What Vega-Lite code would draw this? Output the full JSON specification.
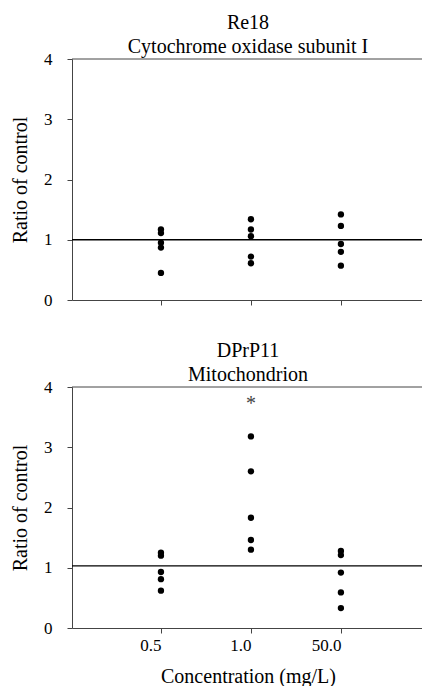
{
  "$schema": "https://vega.github.io/schema/vega-lite/v6.json",
  "background": "white",
  "padding": {"left": 10, "top": 13, "right": 0, "bottom": 0},
  "spacing": 33,
  "config": {
    "font": "Liberation Serif",
    "view": {"stroke": null},
    "axis": {
      "grid": false,
      "domainColor": "#444",
      "tickColor": "#444",
      "labelColor": "black",
      "titleColor": "black",
      "labelFont": "Liberation Serif",
      "titleFont": "Liberation Serif",
      "labelFontSize": 17,
      "titleFontSize": 20,
      "titleFontWeight": "normal",
      "tickSize": 5
    },
    "title": {"font": "Liberation Serif", "fontSize": 20, "fontWeight": "normal", "color": "black", "anchor": "middle", "lineHeight": 24, "offset": -7}
  },
  "datasets": {
    "points": [
      {"panel": "Re18", "conc": "0.5", "ratio": 1.17},
      {"panel": "Re18", "conc": "0.5", "ratio": 1.11},
      {"panel": "Re18", "conc": "0.5", "ratio": 0.95},
      {"panel": "Re18", "conc": "0.5", "ratio": 0.87},
      {"panel": "Re18", "conc": "0.5", "ratio": 0.45},
      {"panel": "Re18", "conc": "1.0", "ratio": 1.34},
      {"panel": "Re18", "conc": "1.0", "ratio": 1.17},
      {"panel": "Re18", "conc": "1.0", "ratio": 1.06},
      {"panel": "Re18", "conc": "1.0", "ratio": 0.72},
      {"panel": "Re18", "conc": "1.0", "ratio": 0.61},
      {"panel": "Re18", "conc": "50.0", "ratio": 1.42},
      {"panel": "Re18", "conc": "50.0", "ratio": 1.23},
      {"panel": "Re18", "conc": "50.0", "ratio": 0.93},
      {"panel": "Re18", "conc": "50.0", "ratio": 0.80},
      {"panel": "Re18", "conc": "50.0", "ratio": 0.57},
      {"panel": "DPrP11", "conc": "0.5", "ratio": 1.25},
      {"panel": "DPrP11", "conc": "0.5", "ratio": 1.20},
      {"panel": "DPrP11", "conc": "0.5", "ratio": 0.93},
      {"panel": "DPrP11", "conc": "0.5", "ratio": 0.81},
      {"panel": "DPrP11", "conc": "0.5", "ratio": 0.62},
      {"panel": "DPrP11", "conc": "1.0", "ratio": 3.18},
      {"panel": "DPrP11", "conc": "1.0", "ratio": 2.60},
      {"panel": "DPrP11", "conc": "1.0", "ratio": 1.83},
      {"panel": "DPrP11", "conc": "1.0", "ratio": 1.46},
      {"panel": "DPrP11", "conc": "1.0", "ratio": 1.30},
      {"panel": "DPrP11", "conc": "50.0", "ratio": 1.28},
      {"panel": "DPrP11", "conc": "50.0", "ratio": 1.21},
      {"panel": "DPrP11", "conc": "50.0", "ratio": 0.92},
      {"panel": "DPrP11", "conc": "50.0", "ratio": 0.59},
      {"panel": "DPrP11", "conc": "50.0", "ratio": 0.33}
    ],
    "refs": [
      {"panel": "Re18", "level": 1.0},
      {"panel": "DPrP11", "level": 1.03}
    ],
    "marks": [
      {"panel": "DPrP11", "conc": "1.0", "ratio": 3.71, "label": "*"}
    ]
  },
  "vconcat": [
    {
      "width": 352,
      "height": 241,
      "title": {"text": ["Re18", "Cytochrome oxidase subunit I"]},
      "layer": [
        {
          "data": {"name": "refs"},
          "transform": [{"filter": "datum.panel === 'Re18'"}],
          "mark": {"type": "rule", "color": "black", "strokeWidth": 1.3},
          "encoding": {"y": {"field": "level", "type": "quantitative", "scale": {"domain": [0, 4], "nice": false}}}
        },
        {
          "data": {"name": "refs"},
          "transform": [{"filter": "datum.panel === 'Re18'"}],
          "mark": {"type": "rule", "color": "#444", "strokeWidth": 1},
          "encoding": {"y": {"datum": 4, "type": "quantitative"}}
        },
        {
          "data": {"name": "points"},
          "transform": [{"filter": "datum.panel === 'Re18'"}],
          "mark": {"type": "circle", "color": "black", "opacity": 1, "size": 40},
          "encoding": {
            "x": {"field": "conc", "type": "ordinal", "scale": {"type": "point", "domain": ["0.5", "1.0", "50.0"], "padding": 0.956, "align": 0.517}, "axis": {"labels": false, "title": null, "labelAngle": 0}},
            "y": {"field": "ratio", "type": "quantitative", "scale": {"domain": [0, 4], "nice": false}, "axis": {"values": [0, 1, 2, 3, 4], "format": "d", "title": "Ratio of control", "labelPadding": 15, "titlePadding": 13}}
          }
        }
      ]
    },
    {
      "width": 352,
      "height": 241,
      "title": {"text": ["DPrP11", "Mitochondrion"]},
      "layer": [
        {
          "data": {"name": "refs"},
          "transform": [{"filter": "datum.panel === 'DPrP11'"}],
          "mark": {"type": "rule", "color": "black", "strokeWidth": 1.3},
          "encoding": {"y": {"field": "level", "type": "quantitative", "scale": {"domain": [0, 4], "nice": false}}}
        },
        {
          "data": {"name": "refs"},
          "transform": [{"filter": "datum.panel === 'DPrP11'"}],
          "mark": {"type": "rule", "color": "#444", "strokeWidth": 1},
          "encoding": {"y": {"datum": 4, "type": "quantitative"}}
        },
        {
          "data": {"name": "marks"},
          "mark": {"type": "text", "color": "#444", "fontSize": 20, "font": "Liberation Serif", "baseline": "middle"},
          "encoding": {
            "x": {"field": "conc", "type": "ordinal", "scale": {"type": "point", "domain": ["0.5", "1.0", "50.0"], "padding": 0.956, "align": 0.517}},
            "y": {"field": "ratio", "type": "quantitative"},
            "text": {"field": "label"}
          }
        },
        {
          "data": {"name": "points"},
          "transform": [{"filter": "datum.panel === 'DPrP11'"}],
          "mark": {"type": "circle", "color": "black", "opacity": 1, "size": 40},
          "encoding": {
            "x": {"field": "conc", "type": "ordinal", "scale": {"type": "point", "domain": ["0.5", "1.0", "50.0"], "padding": 0.956, "align": 0.517}, "axis": {"title": "Concentration (mg/L)", "labelAngle": 0, "labelPadding": 12, "titlePadding": 13}},
            "y": {"field": "ratio", "type": "quantitative", "scale": {"domain": [0, 4], "nice": false}, "axis": {"values": [0, 1, 2, 3, 4], "format": "d", "title": "Ratio of control", "labelPadding": 15, "titlePadding": 13}}
          }
        }
      ]
    }
  ]
}
